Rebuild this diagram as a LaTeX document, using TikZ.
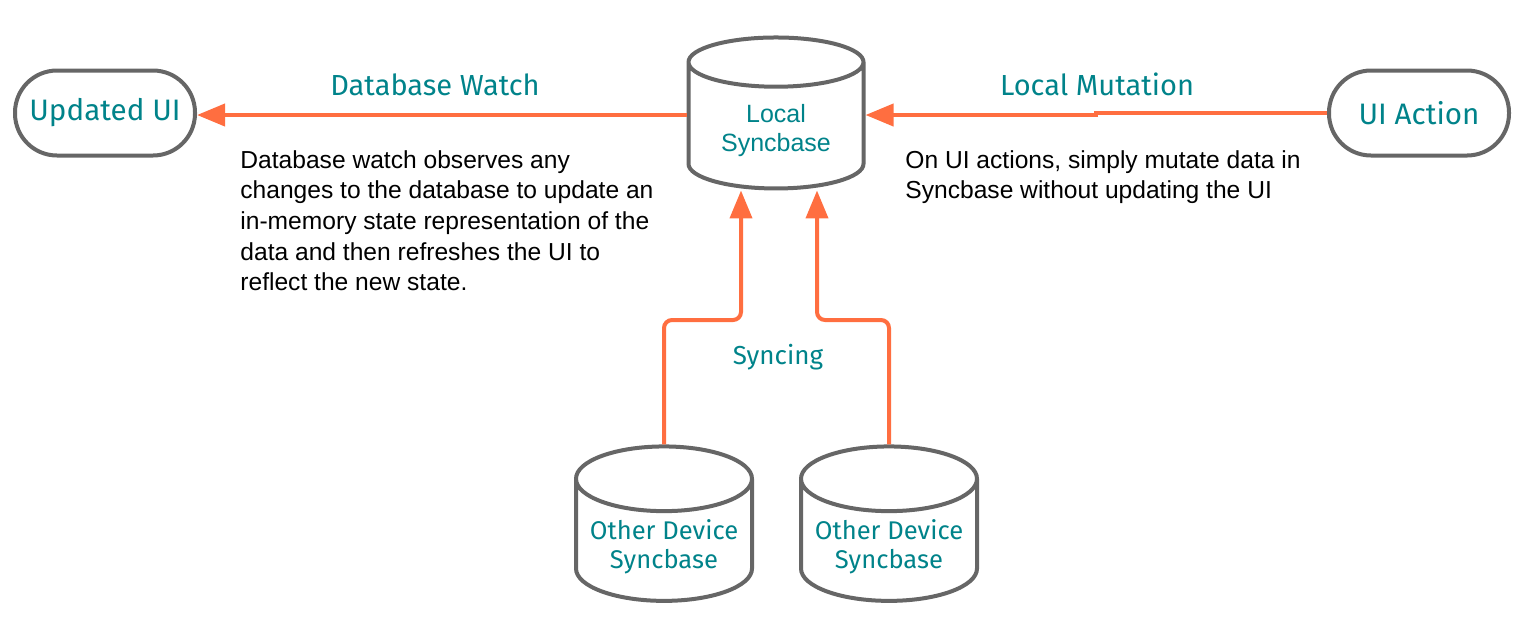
\documentclass[tikz,border=0pt]{standalone}
\usepackage{fontspec}
\setmainfont{Liberation Sans}
\newfontfamily\labelfont{Fira Sans}
\usetikzlibrary{arrows.meta,shapes.geometric}
\definecolor{syncorange}{HTML}{FF6E40}
\definecolor{syncteal}{HTML}{00838A}
\definecolor{syncgray}{HTML}{666666}

\begin{document}
\begin{tikzpicture}[x=0.5pt,y=-0.5pt,>={Triangle[length=14pt,width=11pt]},
    pill/.style={rectangle,rounded corners=21pt,draw=syncgray,line width=2pt,fill=white,
      minimum width=90pt,minimum height=42.5pt,text=syncteal,
      font=\labelfont\fontsize{14.8}{17}\selectfont},
    db/.style={cylinder,shape border rotate=90,aspect=0.4,draw=syncgray,
      line width=2pt,fill=white,text=syncteal,align=center},
    flow/.style={->,color=syncorange,line width=2pt},
    flowlabel/.style={text=syncteal,font=\labelfont\fontsize{14.5}{17}\selectfont},
    note/.style={align=left,inner sep=0pt,anchor=north west,
      font=\fontsize{12.3}{15.3}\selectfont}]
    \useasboundingbox (0,0) rectangle (1532,639);
    \node[pill](UpdatedUI)at(105, 113){Updated UI};
    \node[pill](UIAction)at(1419, 113){UI Action};
    \node[db,minimum width=87.5pt,minimum height=75.5pt,
      font=\fontsize{12.5}{14.5}\selectfont](LocalDB)at(776, 131){Local\\Syncbase};
    \node[db,minimum width=88pt,minimum height=70.5pt,
      font=\labelfont\fontsize{12.8}{14.5}\selectfont](OtherA)at(664, 547){Other Device\\Syncbase};
    \node[db,minimum width=88pt,minimum height=70.5pt,
      font=\labelfont\fontsize{12.8}{14.5}\selectfont](OtherB)at(889, 547){Other Device\\Syncbase};
    % edge labels
    \node[flowlabel](WatchLabel)at(435, 85){Database Watch};
    \node[flowlabel](MutationLabel)at(1097, 84){Local Mutation};
    \node[flowlabel,font=\labelfont\fontsize{13}{15}\selectfont](SyncLabel)at(778, 357){Syncing};
    % notes
    \node[note](WatchNote)at(240, 150){Database watch observes any\\changes to the database to update an\\in-memory state representation of the\\data and then refreshes the UI to\\reflect the new state.};
    \node[note](MutationNote)at(905, 150){On UI actions, simply mutate data in\\Syncbase without updating the UI};
    % connectors
    \coordinate(jogR)at(1096, 113);
    \coordinate(jogL)at(1096, 115);
    \coordinate(syncL)at(741, 320);
    \coordinate(syncR)at(817, 320);
    \draw[flow](LocalDB.west |- jogL) -- (jogL -| UpdatedUI.east);
    \draw[flow](UIAction) -- (jogR) -- (jogL) -- (jogL -| LocalDB.east);
    \draw[flow,rounded corners=4pt](OtherA.north) |- (syncL) -- (syncL |- LocalDB.south);
    \draw[flow,rounded corners=4pt](OtherB.north) |- (syncR) -- (syncR |- LocalDB.south);
\end{tikzpicture}
\end{document}
